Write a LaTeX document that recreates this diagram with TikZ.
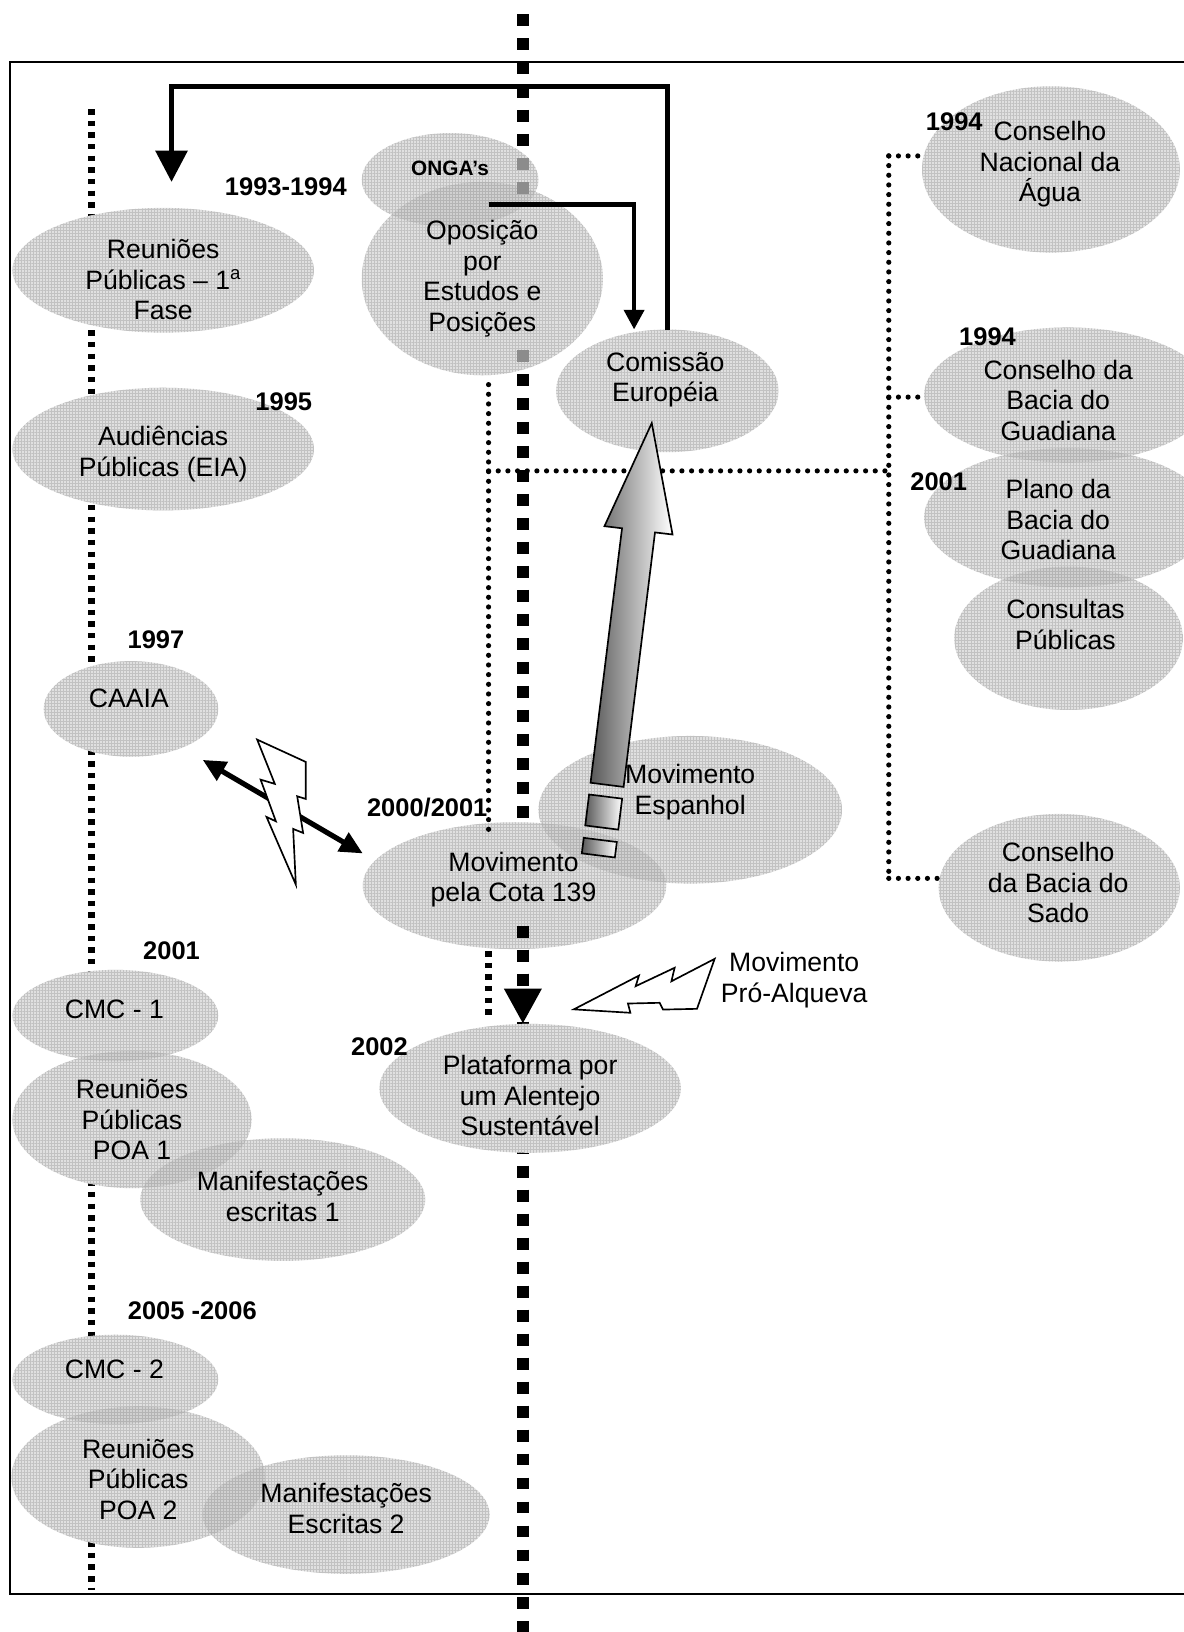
\documentclass[tikz,border=0pt]{standalone}
\usepackage{fontspec}
\setmainfont{Liberation Sans}
\usetikzlibrary{arrows.meta,shapes.geometric,calc,patterns.meta}
\definecolor{ellbase}{gray}{0.95}
\begin{document}
\begin{tikzpicture}[x=1pt,y=-1pt,
 txt/.style={align=center,inner sep=0pt,font=\fontsize{25.6}{29.4}\selectfont},
 yr/.style={inner sep=0pt,font=\fontsize{24.5}{28}\selectfont\bfseries},
 elln/.style={ellipse,draw=none,fill=black,fill opacity=0.07,inner sep=0pt,outer sep=0pt},
 gridfill/.style={pattern={Hatch[angle=0,distance=2.9pt,line width=0.35pt]},pattern color=black!18},
 sqline/.style={line width=11.5pt,dash pattern=on 11.5pt off 11.58pt},
 sqdots/.style={line width=6pt,dash pattern=on 5.2pt off 6pt},
 rdots/.style={line width=5pt,dash pattern=on 0pt off 9.3pt,line cap=round},
 conn/.style={line width=5pt},
 bolt/.style={draw=black,line width=1.6pt,fill=white,line join=miter},
 shadearrow/.style={draw=black,line width=1.6pt,left color=black!65,right color=white}
]
\useasboundingbox (0,0) rectangle (1139,1570);
\fill[white] (0,0) rectangle (1139,1570);
\clip (0,0) rectangle (1139,1570);

% background lines
\coordinate (ctop) at (503,13.5);
\coordinate (cbot) at (503,1570);
\draw[sqline] (ctop) -- (cbot);
\coordinate (ltop) at (88,105);
\coordinate (lbot) at (88,1530);
\draw[sqdots] (ltop) -- (lbot);
\coordinate (rtop) at (855,150);
\coordinate (rbot) at (855,845);
\coordinate (rb2) at (855,382);
\coordinate (j1) at (470,453);
\coordinate (j2) at (855,453);
\draw[rdots] (rtop) -- (rbot);

% ellipses
\newcommand\EllList{%
 \E{reu1}{157}{260}{145}{60}
 \E{aud}{157}{432}{145}{59}
 \E{caaia}{126}{682}{84}{46}
 \E{cmc1}{111}{977}{99}{44}
 \E{poa1}{127}{1077}{115}{66}
 \E{man1}{272}{1154}{137}{59}
 \E{cmc2}{111}{1327}{99}{43}
 \E{poa2}{133}{1421}{122}{68}
 \E{man2}{333}{1457}{138}{57}
 \E{onga}{433}{173}{85}{45}
 \E{opo}{464}{268}{116}{93}
 \E{com}{642}{376}{107}{59}
 \E{esp}{664}{779}{146}{71}
 \E{cota}{495}{852}{146}{61}
 \E{plat}{510}{1047}{145}{62}
 \E{cna}{1011}{163}{124}{80}
 \E{cbg}{1027}{380}{138}{65}
 \E{pbg}{1027}{498}{138}{67}
 \E{cpub}{1028}{614}{110}{69}
 \E{cbs}{1019}{854}{116}{71}
}
\def\E#1#2#3#4#5{\fill[ellbase] (#2,#3) ellipse [x radius=#4pt, y radius=#5pt];}
\EllList
\def\E#1#2#3#4#5{\fill[gridfill] (#2,#3) ellipse [x radius=#4pt, y radius=#5pt];}
\EllList
\def\E#1#2#3#4#5{\node[elln,minimum width=#4pt*2,minimum height=#5pt*2] (#1) at (#2,#3) {};}
\EllList

% frame
\draw[line width=2pt] (10,60) rectangle (1200,1533);

% texts
\node[txt] (reu1-t) at (157,269) {Reuniões\\Públicas – 1\textsuperscript{a}\\Fase};
\node[txt] (aud-t) at (157,437) {Audiências\\Públicas (EIA)};
\node[txt] (caaia-t) at (124,672) {CAAIA};
\node[txt] (cmc1-t) at (110,971) {CMC - 1};
\node[txt] (poa1-t) at (127,1077) {Reuniões\\Públicas\\POA 1};
\node[txt] (man1-t) at (272,1151) {Manifestações\\escritas 1};
\node[txt] (cmc2-t) at (110,1317) {CMC - 2};
\node[txt] (poa2-t) at (133,1423) {Reuniões\\Públicas\\POA 2};
\node[txt] (man2-t) at (333,1451) {Manifestações\\Escritas 2};
\node[inner sep=0pt,font=\fontsize{20}{23}\selectfont\bfseries] (onga-t) at (433,162) {ONGA’s};
\node[txt] (opo-t) at (464,268) {Oposição\\por\\Estudos e\\Posições};
\node[txt] (com-t) at (640,365) {Comissão\\Européia};
\node[txt] (esp-t) at (664,762) {Movimento\\Espanhol};
\node[txt] (cota-t) at (494,846) {Movimento\\pela Cota 139};
\node[txt] (plat-t) at (510,1054) {Plataforma por\\um Alentejo\\Sustentável};
\node[txt] (cna-t) at (1010,158) {Conselho\\Nacional da\\Água};
\node[txt] (cbg-t) at (1018,385) {Conselho da\\Bacia do\\Guadiana};
\node[txt] (pbg-t) at (1018,500) {Plano da\\Bacia do\\Guadiana};
\node[txt] (cpub-t) at (1025,601) {Consultas\\Públicas};
\node[txt] (cbs-t) at (1018,849) {Conselho\\da Bacia do\\Sado};
\node[txt] (alq-t) at (764,943) {Movimento\\Pró-Alqueva};

% years
\node[yr] (y1) at (275,180) {1993-1994};
\node[yr] (y2) at (273,386) {1995};
\node[yr] (y3) at (150,615) {1997};
\node[yr] (y4) at (411,777) {2000/2001};
\node[yr] (y5) at (165,915) {2001};
\node[yr] (y6) at (365,1007) {2002};
\node[yr] (y7) at (185,1261) {2005 -2006};
\node[yr] (y8) at (918,117) {1994};
\node[yr] (y9) at (950,324) {1994};
\node[yr] (y10) at (903,463) {2001};

% central line squares seen through the ellipses
\draw[sqline,draw=black!45] (503,152) -- (503,186.6);
\draw[sqline,draw=black!45] (503,336.6) -- (503,348.1);

% dotted connectors
\draw[rdots] (rtop) -- (rtop -| cna.west);
\draw[rdots] (rb2) -- (rb2 -| cbg.west);
\draw[rdots] (rbot) -- (rbot -| cbs.west);
\draw[rdots] (j1) -- (j2);
\coordinate (v1) at (470,370);
\coordinate (v2) at (470,800);
\coordinate (v3) at (470,915);
\coordinate (v4) at (470,980);
\draw[rdots] (v1) -- (v2);
\draw[sqdots] (v3) -- (v4);

% solid connectors
\coordinate (loopend) at (165,175);
\coordinate (looptop) at (0,83);
\draw[conn,-{Triangle[length=30pt,width=30pt]}] (com.north) -- (com.north |- looptop) -| (loopend);
\coordinate (ostart) at (470,197);
\draw[line width=4.5pt,-{Triangle[length=19pt,width=19pt]}] (ostart) -| ($(com.north)+(-32,0)$);
\coordinate (ca) at (503,890.5);
\draw[sqline,-{Triangle[length=34pt,width=34pt]}] (ca) -- (ca |- plat.north);

% big shaded arrow
\draw[shadearrow] (627,407) -- (647.0,514.2) -- (630.1,512.2) -- (599.9,757.0) -- (568.1,753.0) -- (598.4,508.2) -- (581.5,506.2) -- cycle;
\draw[shadearrow] (566.7,764.3) -- (598.5,768.3) -- (594.8,798.1) -- (563.0,794.1) -- cycle;
\draw[shadearrow] (561.6,806.0) -- (593.4,810.0) -- (591.5,824.9) -- (559.7,820.9) -- cycle;

% double arrow and bolts
\coordinate (da1) at (195,731);
\coordinate (da2) at (349,821);
\draw[conn,{Triangle[length=22pt,width=20pt]}-{Triangle[length=22pt,width=20pt]}] (da1) -- (da2);
\draw[bolt] (247.4,711.5) -- (294.2,733) -- (294.2,768.6) -- (285.9,766) -- (291.6,801.3) -- (282,797.4) -- (284.6,851) -- (256.4,785.9) -- (265.4,790.1) -- (250.7,750) -- (264.4,754.1) -- cycle;
\draw[bolt] (552,971) -- (614.7,938.5) -- (611.5,948.7) -- (649,931) -- (645.9,944) -- (687.5,922.4) -- (670.5,970.5) -- (637.8,971.2) -- (634.6,964.7) -- (604.1,965.4) -- (606.4,974.3) -- cycle;
\end{tikzpicture}
\end{document}
